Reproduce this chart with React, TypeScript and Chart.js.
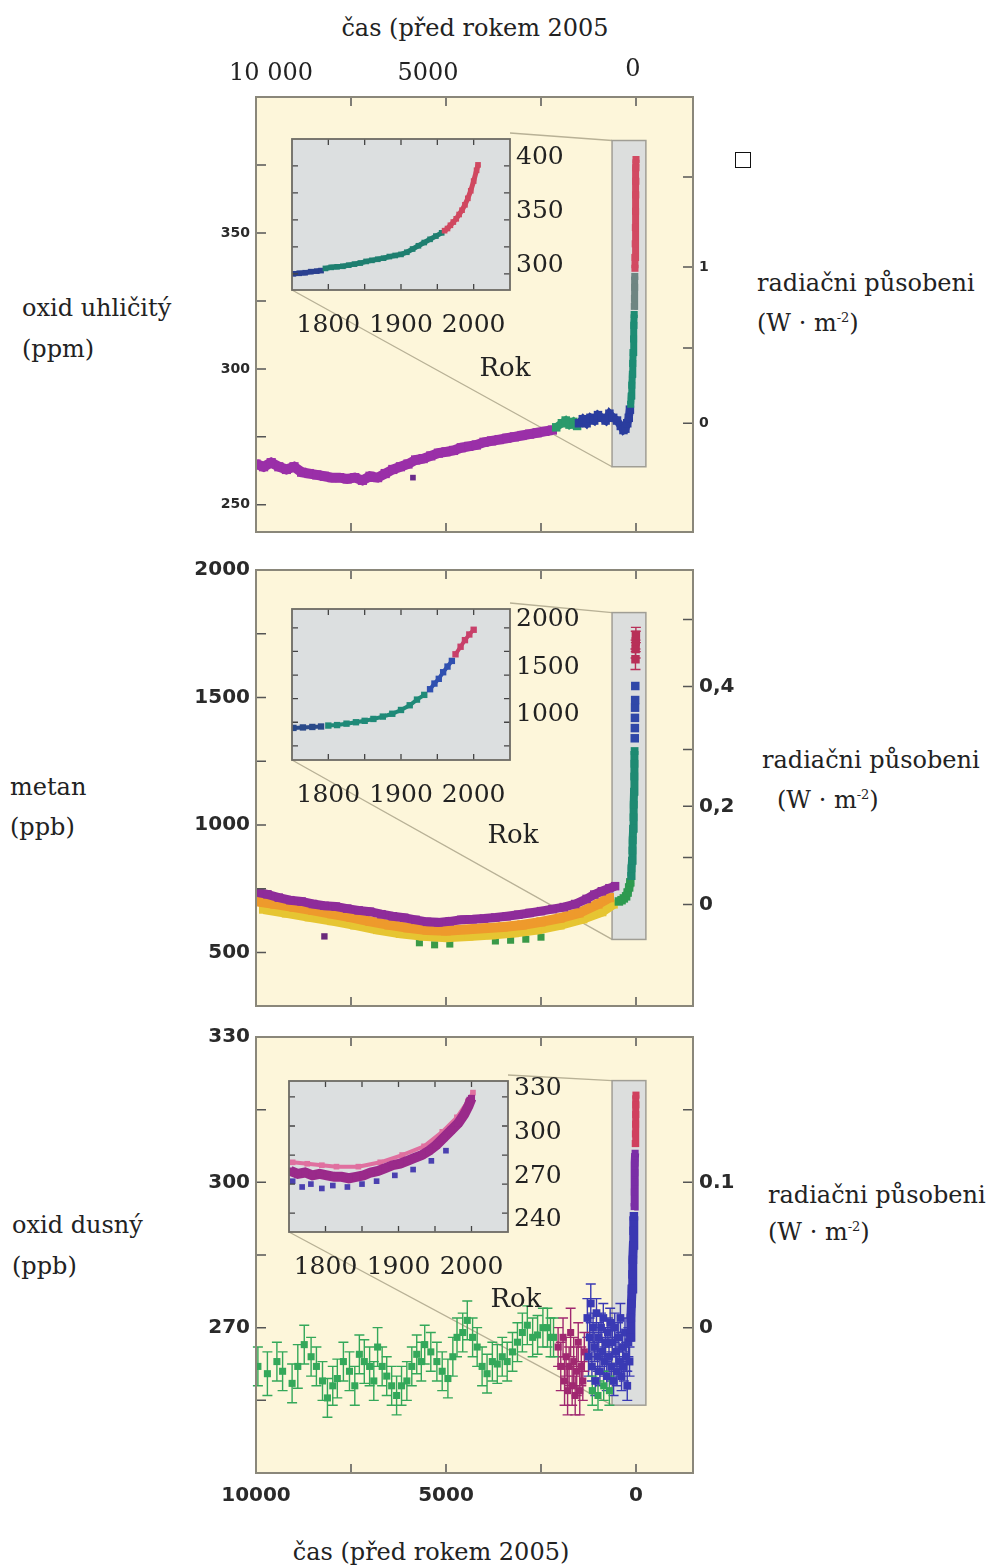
import React, { useEffect, useRef } from 'react';
import { Chart, registerables } from 'chart.js';
Chart.register(...registerables);

type Pt = [number, number];
type PtE = [number, number, number];

// ---------- axis values ----------
const X_MIN = -1500;
const X_MAX = 10000;
const mainXTicks = [7500, 5000, 2500, 0];
const bottomXTicks = [10000, 5000, 0];
const bottomXLabels = ['10000', '5000', '0'];

const co2LeftTicks = [250, 275, 300, 325, 350, 375];
const co2LeftLabels = ['250', '', '300', '', '350', ''];
const co2RightTicks = [280, 307.7, 337.5, 370.6];
const co2RightLabels = ['0', '', '1', ''];

const ch4LeftTicks = [500, 750, 1000, 1250, 1500, 1750, 2000];
const ch4LeftLabels = ['500', '', '1000', '', '1500', '', '2000'];
const ch4RightTicks = [688, 872, 1073, 1296, 1543, 1806];
const ch4RightLabels = ['0', '', '0,2', '', '0,4', ''];

const n2oLeftTicks = [255, 270, 285, 300, 315, 330];
const n2oLeftLabels = ['', '270', '', '300', '', '330'];
const n2oRightTicks = [270, 285, 300, 315];
const n2oRightLabels = ['0', '', '0.1', ''];

const insetXTicks = [1800, 1850, 1900, 1950, 2000];
const insetXLabelTicks = [1800, 1900, 2000];
const insetXLabels = ['1800', '1900', '2000'];
const co2InsetYTicks = [300, 325, 350, 375, 400];
const co2InsetLabelTicks = [300, 350, 400];
const ch4InsetYTicks = [750, 1000, 1250, 1500, 1750, 2000];
const ch4InsetLabelTicks = [1000, 1500, 2000];
const n2oInsetYTicks = [250, 270, 290, 310, 330];
const n2oInsetLabelTicks = [240, 270, 300, 330];

// zoom boxes [x from, x to, y from, y to]
const co2ZoomBox = [630, -260, 264, 384];
const ch4ZoomBox = [630, -260, 551, 1833];
const n2oZoomBox = [630, -260, 254, 321];

// ---------- CO2 (years before 2005, ppm) ----------
const co2Purple: Pt[] = [[10000,265],[9800,264],[9600,265.5],[9400,264],[9200,263],[9000,264],[8800,262],[8600,261.5],[8400,261],[8200,260.5],[8000,260],[7800,260],[7600,259.5],[7400,260],[7200,259],[7000,260.5],[6800,260],[6600,261.5],[6400,263],[6200,264],[6000,265],[5800,266.5],[5600,267],[5400,268],[5200,269],[5000,269.5],[4800,270],[4600,271],[4400,271.5],[4200,272],[4000,273],[3800,273.5],[3600,274],[3400,274.5],[3200,275],[3000,275.5],[2800,276],[2600,276.5],[2400,277],[2200,277.5]];
const co2Outlier: Pt[] = [[5870,260]];
const co2Green: Pt[] = [[2100,278.5],[1950,280],[1850,281],[1750,279.5],[1650,280.5],[1550,279]];
const co2Blue: Pt[] = [[1500,280],[1400,281.5],[1300,280],[1200,282],[1100,281],[1000,283],[900,282],[800,281],[700,283.5],[600,282],[500,281],[400,279],[330,277.5],[280,278],[230,280],[190,282],[160,285]];
const co2Teal: Pt[] = [[140,287],[125,290],[110,294],[95,298],[85,302],[75,306],[65,311],[55,316],[48,320]];
const co2Grey: Pt[] = [[44,323],[40,326],[36,330],[32,334]];
const co2Red: Pt[] = [[28,337],[24,341],[20,346],[16,352],[12,358],[8,364],[5,369],[2,374],[0,377]];

const co2InsBlue: Pt[] = [[1752,300],[1760,300.5],[1768,301],[1776,302],[1784,302.5],[1790,303]];
const co2InsTeal: Pt[] = [[1796,305],[1804,306],[1812,306.5],[1820,307],[1828,308],[1836,309],[1844,310],[1852,311.5],[1860,312.5],[1868,313.5],[1876,314.5],[1884,316],[1892,317],[1900,318],[1908,320],[1916,323],[1924,326],[1932,329],[1940,332],[1948,335],[1956,338]];
const co2InsRed: Pt[] = [[1960,340],[1964,342],[1968,345],[1972,348],[1976,351],[1980,355],[1984,359],[1988,364],[1992,370],[1996,377],[2000,386],[2004,396],[2006,401]];

// ---------- CH4 (years before 2005, ppb) ----------
const ch4Purple: Pt[] = [[9950,735],[9700,728],[9400,715],[9100,705],[8800,700],[8500,690],[8200,683],[7900,680],[7600,672],[7300,665],[7000,660],[6700,650],[6400,642],[6100,636],[5800,628],[5500,620],[5200,618],[4900,622],[4600,628],[4300,630],[4000,633],[3700,637],[3400,642],[3100,648],[2800,655],[2500,662],[2200,670],[1900,678],[1600,690],[1300,710],[1100,727],[900,740],[700,752],[550,760]];
const ch4Orange: Pt[] = [[9950,700],[9500,690],[9000,678],[8500,665],[8000,652],[7500,638],[7000,622],[6500,608],[6000,597],[5500,588],[5000,585],[4500,590],[4000,595],[3500,600],[3000,608],[2500,620],[2000,635],[1500,655],[1000,690],[700,715]];
const ch4Yellow: Pt[] = [[9800,670],[9200,655],[8600,640],[8000,625],[7400,608],[6800,590],[6200,575],[5600,565],[5000,560],[4400,565],[3800,570],[3200,578],[2600,590],[2000,608],[1400,632],[900,660],[600,690]];
const ch4GreenOld: Pt[] = [[5700,538],[5300,530],[4900,533],[3700,545],[3300,548],[2900,552],[2500,560]];
const ch4Outlier: Pt[] = [[8200,563]];
const ch4Green: Pt[] = [[450,700],[380,705],[320,712],[260,720],[220,735],[180,755],[150,775]];
const ch4Teal: Pt[] = [[130,800],[118,830],[105,860],[95,900],[85,940],[75,985],[66,1030],[58,1080],[52,1130],[46,1190],[41,1240],[37,1290]];
const ch4Blue: Pt[] = [[33,1340],[30,1380],[28,1420],[25,1460],[22,1490],[19,1545]];
const ch4Red: PtE[] = [[14,1650,40],[10,1690,35],[6,1720,40],[3,1745,30]];

const ch4InsBlue: Pt[] = [[1752,940],[1765,945],[1778,950],[1790,955]];
const ch4InsTeal: Pt[] = [[1800,965],[1812,970],[1825,985],[1838,1000],[1850,1015],[1862,1035],[1875,1060],[1888,1090],[1900,1130],[1912,1180],[1922,1240],[1932,1290]];
const ch4InsBlue2: Pt[] = [[1940,1350],[1946,1410],[1952,1460],[1958,1530],[1964,1590],[1970,1650]];
const ch4InsRed: Pt[] = [[1975,1720],[1982,1800],[1988,1870],[1994,1930],[2000,1980]];

// ---------- N2O (years before 2005, ppb, error) ----------
const n2oGreen: PtE[] = [[9950,262,4],[9700,260.5,4.5],[9450,263,4],[9300,261,4],[9050,258.5,4],[8900,262,4.5],[8730,266.5,4],[8550,264,4],[8410,262,4],[8250,259,4],[8120,255.5,4],[7980,258,4],[7860,259.5,4],[7700,263,4],[7540,261,4],[7400,258,4],[7280,264.5,4],[7150,263,4.5],[7010,262,4],[6900,259,4],[6800,266,4],[6680,262,4],[6560,260,4],[6430,258,4],[6300,256,4],[6170,258,4],[6030,259,4],[5900,262,4],[5770,264.5,4],[5650,263,4],[5560,266.5,4],[5400,265,4],[5240,263,4],[5100,261,4],[4950,259.5,4],[4820,264,4],[4710,268,4],[4560,269,4],[4440,271.5,4],[4300,268,4],[4180,266,4],[4050,262,4],[3920,260.5,4],[3780,263,4],[3650,262.5,4],[3520,264,4],[3390,263,4],[3250,265,4],[3120,267,4],[2990,269,4],[2860,270.5,4],[2720,268,4],[2590,268.5,4],[2450,270,4],[2330,270,4],[2250,268,4],[2170,268,4],[1150,257,3],[1000,256,3],[850,258,3],[700,257,3]];
const n2oMagenta: PtE[] = [[2050,266,4],[1980,262,5],[1920,268,4],[1880,259,5],[1840,264,4],[1800,257,5],[1760,262,4],[1720,269,5],[1680,258,4],[1640,263,5],[1600,256,4],[1560,261,5],[1520,267,4],[1480,257,5],[1440,262,4],[1400,259,4],[1360,265,4]];
const n2oBlue: PtE[] = [[1280,272,4],[1250,264,4],[1220,268,4],[1190,275,4],[1160,262,3],[1130,270,3],[1100,266,3],[1070,259,3],[1040,273,3],[1010,264,3],[980,268,3],[950,261,3],[920,270,3],[890,265,3],[860,272,3],[830,263,3],[800,267,3],[770,260,3],[740,269,3],[710,264,3],[680,271,3],[650,262,3],[620,267,3],[590,259,3],[560,270,3],[530,265,3],[500,261,3],[470,268,3],[440,263,3],[410,272,3],[380,260,3],[350,266,3],[320,262,3],[290,269,3],[260,264,3],[230,258,3],[200,267,3],[170,263,3]];
const n2oRiseBlue: Pt[] = [[150,268],[135,272],[120,275],[105,278],[92,281],[80,284],[70,287],[62,290],[55,293]];
const n2oRisePurple: Pt[] = [[48,295],[42,298],[37,300],[32,302],[27,304],[23,306]];
const n2oRiseRed: Pt[] = [[19,308],[15,310],[11,312],[7,314],[4,316],[1,318]];

const n2oInsMagenta: Pt[] = [[1752,279],[1762,277],[1772,278],[1782,276],[1792,277],[1802,276],[1812,275],[1822,275],[1832,274],[1842,275],[1852,276],[1862,278],[1872,279],[1882,281],[1892,283],[1902,284],[1912,286],[1922,288],[1932,290],[1942,293],[1952,297],[1962,302],[1972,307],[1982,312],[1990,318],[1996,324],[2000,329]];
const n2oInsPink: Pt[] = [[1755,285],[1775,284],[1795,283],[1815,282],[1845,282],[1875,285],[1905,290],[1935,296],[1960,306],[1980,316],[1995,327],[2002,333]];
const n2oInsBlue: Pt[] = [[1755,272],[1768,268],[1780,270],[1795,267],[1810,269],[1830,268],[1850,270],[1870,272],[1895,276],[1920,280],[1945,286],[1965,293]];

// ---------- styling / layout ----------
const SERIF = '"DejaVu Serif", serif';
const SANS = '"DejaVu Sans", "Liberation Sans", sans-serif';
const PANEL_BG = '#fdf6da';
const FRAME = '#8a877a';
const TICK = '#555';
const BOX_BG = '#dcdedd';
const BOX_LINE = '#a09e95';
const CONNECT = '#b8b196';
const INSET_BG = '#dcdfe0';
const INSET_FRAME = '#6d6b64';

const LEFT_W = 76;
const RIGHT_W = 57;
const PAD_T = 18;

const FR1 = { l: 256, r: 693, t: 97, b: 532 };
const FR2 = { l: 256, r: 693, t: 570, b: 1006 };
const FR3 = { l: 256, r: 693, t: 1037, b: 1473 };
const IN1 = { l: 292, r: 510, t: 133, b: 290 };
const IN2 = { l: 292, r: 510, t: 603, b: 760 };
const IN3 = { l: 289, r: 508, t: 1075, b: 1232 };
const INSET_PAD_L = 10, INSET_PAD_T = 15, INSET_RIGHT_W = 84, INSET_BOTTOM_H = 56;

const toXY = (a: Pt[] | PtE[]) => a.map((p) => ({ x: p[0], y: p[1] }));

function ds(data: Pt[] | PtE[], color: string, r = 4.5, line = 0, errColor?: string) {
  const d: any = {
    data: toXY(data), backgroundColor: color, borderColor: color,
    pointStyle: 'rect', pointRadius: r, pointBorderWidth: 0,
    showLine: line > 0, borderWidth: line, tension: 0,
  };
  if (data.length && (data[0] as any).length === 3) {
    d.errors = (data as PtE[]).map((p) => p[2]);
    d.errorColor = errColor || color;
  }
  return d;
}

function mainGeom(fr: any, bottomH: number) {
  return { left: fr.l - LEFT_W, top: fr.t - PAD_T, width: LEFT_W + (fr.r - fr.l) + RIGHT_W, height: PAD_T + (fr.b - fr.t) + bottomH };
}
function insetGeom(fr: any) {
  return { left: fr.l - INSET_PAD_L, top: fr.t - INSET_PAD_T, width: INSET_PAD_L + (fr.r - fr.l) + INSET_RIGHT_W, height: INSET_PAD_T + (fr.b - fr.t) + INSET_BOTTOM_H };
}

const smallTickFont = { family: SANS, size: 14, weight: 'bold' as const };
const tickFont = { family: SANS, size: 20, weight: 'bold' as const };

function yAxis(pos: 'left' | 'right', min: number, max: number, ticks: number[], labels: string[], w: number, font: any, pad: number, labelOffset = 0, color = '#2a2a2a') {
  return {
    type: 'linear', position: pos, min, max,
    afterFit: (s: any) => { s.width = w; },
    afterBuildTicks: (s: any) => { s.ticks = ticks.map((v) => ({ value: v })); },
    ticks: { callback: (_v: any, i: number) => labels[i], font, color, padding: pad, autoSkip: false, labelOffset },
    grid: { display: false, drawTicks: false, drawOnChartArea: false },
    border: { display: false },
  };
}

function makeMain(canvas: HTMLCanvasElement, p: any) {
  const g = mainGeom(p.frame, p.bottomH);
  const plugin = {
    id: 'mainDecor',
    beforeDraw(chart: any) {
      const { ctx, chartArea: a } = chart;
      ctx.save();
      ctx.fillStyle = PANEL_BG;
      ctx.fillRect(a.left, a.top, a.right - a.left, a.bottom - a.top);
      ctx.restore();
    },
    beforeDatasetsDraw(chart: any) {
      const { ctx, scales } = chart;
      const x = scales.x, y = scales.y;
      const [bx0, bx1, by0, by1] = p.box;
      const L = x.getPixelForValue(bx0), R = x.getPixelForValue(bx1);
      const T = y.getPixelForValue(by1), B = y.getPixelForValue(by0);
      const ins = p.inset;
      ctx.save();
      ctx.strokeStyle = CONNECT; ctx.lineWidth = 1.4;
      ctx.beginPath();
      ctx.moveTo(ins.r - g.left, ins.t - g.top); ctx.lineTo(L, T);
      ctx.moveTo(ins.l - g.left, ins.b - g.top); ctx.lineTo(L, B);
      ctx.stroke();
      ctx.fillStyle = BOX_BG; ctx.fillRect(L, T, R - L, B - T);
      ctx.strokeStyle = BOX_LINE; ctx.lineWidth = 1.5; ctx.strokeRect(L, T, R - L, B - T);
      chart.data.datasets.forEach((d: any) => {
        if (!d.errors) return;
        ctx.strokeStyle = d.errorColor; ctx.lineWidth = 1.4;
        d.data.forEach((pt: any, i: number) => {
          const e = d.errors[i];
          const px = x.getPixelForValue(pt.x);
          const p1 = y.getPixelForValue(pt.y - e), p2 = y.getPixelForValue(pt.y + e);
          ctx.beginPath();
          ctx.moveTo(px, p1); ctx.lineTo(px, p2);
          ctx.moveTo(px - 5, p1); ctx.lineTo(px + 5, p1);
          ctx.moveTo(px - 5, p2); ctx.lineTo(px + 5, p2);
          ctx.stroke();
        });
      });
      ctx.restore();
    },
    afterDraw(chart: any) {
      const { ctx, chartArea: a, scales } = chart;
      ctx.save();
      ctx.strokeStyle = TICK; ctx.lineWidth = 1.5;
      ctx.beginPath();
      mainXTicks.forEach((v) => {
        const px = scales.x.getPixelForValue(v);
        ctx.moveTo(px, a.top); ctx.lineTo(px, a.top + 9);
        ctx.moveTo(px, a.bottom); ctx.lineTo(px, a.bottom - 9);
      });
      p.yTicks.forEach((v: number) => {
        const py = scales.y.getPixelForValue(v);
        ctx.moveTo(a.left, py); ctx.lineTo(a.left + 10, py);
      });
      p.y2Ticks.forEach((v: number) => {
        const py = scales.y2.getPixelForValue(v);
        ctx.moveTo(a.right, py); ctx.lineTo(a.right - 10, py);
      });
      ctx.stroke();
      ctx.strokeStyle = FRAME; ctx.lineWidth = 2;
      ctx.strokeRect(a.left, a.top, a.right - a.left, a.bottom - a.top);
      ctx.restore();
    },
  };
  const font = p.font;
  return new Chart(canvas, {
    type: 'scatter',
    data: { datasets: p.datasets },
    options: {
      animation: false, responsive: false, maintainAspectRatio: false, events: [],
      layout: { padding: { top: PAD_T, bottom: p.showX ? 0 : p.bottomH, left: 0, right: 0 } },
      plugins: { legend: { display: false }, tooltip: { enabled: false } },
      scales: {
        x: {
          type: 'linear', min: X_MIN, max: X_MAX, reverse: true, display: p.showX,
          afterFit: (s: any) => { if (p.showX) s.height = p.bottomH; },
          afterBuildTicks: (s: any) => { s.ticks = bottomXTicks.map((v) => ({ value: v })); },
          ticks: { callback: (_v: any, i: number) => bottomXLabels[i], font: tickFont, color: '#2a2a2a', padding: 3, autoSkip: false, maxRotation: 0 },
          grid: { display: false, drawTicks: true, tickLength: 8 }, border: { display: false },
        },
        y: yAxis('left', p.yMin, p.yMax, p.yTicks, p.yLabels, LEFT_W, font, 6),
        y2: yAxis('right', p.yMin, p.yMax, p.y2Ticks, p.y2Labels, RIGHT_W, font, 6),
      },
    } as any,
    plugins: [plugin],
  });
}

const insetFont = { family: SERIF, size: 25 };

function makeInset(canvas: HTMLCanvasElement, q: any) {
  const plugin = {
    id: 'insetDecor',
    beforeDraw(chart: any) {
      const { ctx, chartArea: a } = chart;
      ctx.save(); ctx.fillStyle = INSET_BG;
      ctx.fillRect(a.left, a.top, a.right - a.left, a.bottom - a.top);
      ctx.restore();
    },
    afterDraw(chart: any) {
      const { ctx, chartArea: a, scales } = chart;
      ctx.save();
      ctx.strokeStyle = '#444'; ctx.lineWidth = 1.3;
      ctx.beginPath();
      insetXTicks.forEach((v) => {
        const px = scales.x.getPixelForValue(v);
        ctx.moveTo(px, a.top); ctx.lineTo(px, a.top + 6);
        ctx.moveTo(px, a.bottom); ctx.lineTo(px, a.bottom - 6);
      });
      q.yTicks.forEach((v: number) => {
        const py = scales.y.getPixelForValue(v);
        ctx.moveTo(a.left, py); ctx.lineTo(a.left + 6, py);
        ctx.moveTo(a.right, py); ctx.lineTo(a.right - 6, py);
      });
      ctx.stroke();
      ctx.strokeStyle = INSET_FRAME; ctx.lineWidth = 1.8;
      ctx.strokeRect(a.left, a.top, a.right - a.left, a.bottom - a.top);
      ctx.restore();
    },
  };
  return new Chart(canvas, {
    type: 'scatter',
    data: { datasets: q.datasets },
    options: {
      animation: false, responsive: false, maintainAspectRatio: false, events: [],
      layout: { padding: { top: INSET_PAD_T, left: INSET_PAD_L, right: 0, bottom: 0 } },
      plugins: { legend: { display: false }, tooltip: { enabled: false } },
      scales: {
        x: {
          type: 'linear', min: 1750, max: 2050, position: 'bottom',
          afterFit: (s: any) => { s.height = INSET_BOTTOM_H; },
          afterBuildTicks: (s: any) => { s.ticks = insetXLabelTicks.map((v) => ({ value: v })); },
          ticks: { callback: (_v: any, i: number) => insetXLabels[i], font: insetFont, color: '#222', padding: 0, autoSkip: false, maxRotation: 0 },
          grid: { display: false, drawTicks: true, tickLength: 20 }, border: { display: false },
        },
        y: yAxis('right', q.yMin, q.yMax, q.labelTicks, q.labelTicks.map((v: number) => String(v)), INSET_RIGHT_W, insetFont, 6, -8, '#222'),
      },
    } as any,
    plugins: [plugin],
  });
}

function Txt({ x, y, children, center, size = 24 }: any) {
  const style: any = {
    position: 'absolute', top: y - 16, lineHeight: '32px', fontSize: size, whiteSpace: 'nowrap',
    fontFamily: SERIF, color: '#222',
  };
  if (center) { style.left = x - 250; style.width = 500; style.textAlign = 'center'; } else { style.left = x; }
  return <div style={style}>{children}</div>;
}

function Wm2() {
  return <span>(W · m<sup style={{ fontSize: 13, verticalAlign: 'top', lineHeight: '22px' }}>-2</sup>)</span>;
}

const G1 = mainGeom(FR1, 18), G2 = mainGeom(FR2, 18), G3 = mainGeom(FR3, 45);
const I1 = insetGeom(IN1), I2 = insetGeom(IN2), I3 = insetGeom(IN3);

export default function App() {
  const m1 = useRef<HTMLCanvasElement>(null);
  const m2 = useRef<HTMLCanvasElement>(null);
  const m3 = useRef<HTMLCanvasElement>(null);
  const i1 = useRef<HTMLCanvasElement>(null);
  const i2 = useRef<HTMLCanvasElement>(null);
  const i3 = useRef<HTMLCanvasElement>(null);

  useEffect(() => {
    const charts: Chart[] = [];
    charts.push(makeMain(m1.current!, {
      frame: FR1, bottomH: 18, showX: false, yMin: 240, yMax: 400, font: smallTickFont,
      yTicks: co2LeftTicks, yLabels: co2LeftLabels, y2Ticks: co2RightTicks, y2Labels: co2RightLabels,
      box: co2ZoomBox, inset: IN1,
      datasets: [
        ds(co2Red, '#d24a62', 5, 7), ds(co2Grey, '#6e8582', 5, 7), ds(co2Teal, '#1d8c74', 5, 7),
        ds(co2Blue, '#2a3d9e', 6, 8), ds(co2Green, '#2b9a6c', 6, 8), ds(co2Purple, '#9a2fa8', 6.5, 10),
        ds(co2Outlier, '#6a2a8a', 4),
      ],
    }));
    charts.push(makeMain(m2.current!, {
      frame: FR2, bottomH: 18, showX: false, yMin: 290, yMax: 2000, font: tickFont,
      yTicks: ch4LeftTicks, yLabels: ch4LeftLabels, y2Ticks: ch4RightTicks, y2Labels: ch4RightLabels,
      box: ch4ZoomBox, inset: IN2,
      datasets: [
        ds(ch4Red, '#b83058', 6), ds(ch4Blue, '#3048a8', 6), ds(ch4Teal, '#1f8a72', 5.5, 8), ds(ch4Green, '#2e9a50', 6, 8),
        ds(ch4Purple, '#8e2c9a', 6, 9), ds(ch4Orange, '#ee9a2c', 6.5, 10), ds(ch4Yellow, '#e6c532', 6.5, 10),
        ds(ch4GreenOld, '#3a9a48', 5), ds(ch4Outlier, '#6a2a7a', 4.5),
      ],
    }));
    charts.push(makeMain(m3.current!, {
      frame: FR3, bottomH: 45, showX: true, yMin: 240, yMax: 330, font: tickFont,
      yTicks: n2oLeftTicks, yLabels: n2oLeftLabels, y2Ticks: n2oRightTicks, y2Labels: n2oRightLabels,
      box: n2oZoomBox, inset: IN3,
      datasets: [
        ds(n2oRiseRed, '#d0405e', 5, 7), ds(n2oRisePurple, '#7a2ea6', 5, 8), ds(n2oRiseBlue, '#3a38b2', 6, 9),
        ds(n2oBlue, '#3a3ab4', 5.5), ds(n2oMagenta, '#a02870', 5), ds(n2oGreen, '#34a85a', 5),
      ],
    }));
    charts.push(makeInset(i1.current!, {
      yMin: 285, yMax: 425, yTicks: co2InsetYTicks, labelTicks: co2InsetLabelTicks,
      datasets: [ds(co2InsRed, '#d04860', 4, 5), ds(co2InsTeal, '#1e7f70', 4, 5), ds(co2InsBlue, '#2a4090', 4, 5)],
    }));
    charts.push(makeInset(i2.current!, {
      yMin: 600, yMax: 2200, yTicks: ch4InsetYTicks, labelTicks: ch4InsetLabelTicks,
      datasets: [ds(ch4InsRed, '#c8406a', 4.5, 4), ds(ch4InsBlue2, '#3050b0', 4.5, 4), ds(ch4InsTeal, '#1f8a78', 4.5, 4), ds(ch4InsBlue, '#2a4a8a', 4.5, 4)],
    }));
    charts.push(makeInset(i3.current!, {
      yMin: 237, yMax: 341, yTicks: n2oInsetYTicks, labelTicks: n2oInsetLabelTicks,
      datasets: [ds(n2oInsMagenta, '#9a2a8a', 5, 10), ds(n2oInsPink, '#e070a0', 4, 4), ds(n2oInsBlue, '#4a40b0', 4)],
    }));
    return () => charts.forEach((c) => c.destroy());
  }, []);

  const cv = (g: any) => ({ position: 'absolute' as const, left: g.left, top: g.top, width: g.width, height: g.height });

  return (
    <div style={{ position: 'absolute', left: 0, top: 0, width: 993, height: 1568, background: '#fff', overflow: 'hidden' }}>
      <canvas ref={m1} width={G1.width} height={G1.height} style={cv(G1)} />
      <canvas ref={m2} width={G2.width} height={G2.height} style={cv(G2)} />
      <canvas ref={m3} width={G3.width} height={G3.height} style={cv(G3)} />
      <canvas ref={i1} width={I1.width} height={I1.height} style={cv(I1)} />
      <canvas ref={i2} width={I2.width} height={I2.height} style={cv(I2)} />
      <canvas ref={i3} width={I3.width} height={I3.height} style={cv(I3)} />

      <Txt x={475} y={28} center>čas (před rokem 2005</Txt>
      <Txt x={271} y={72} center>10 000</Txt>
      <Txt x={428} y={72} center>5000</Txt>
      <Txt x={633} y={68} center>0</Txt>

      <Txt x={22} y={308}>oxid uhličitý</Txt>
      <Txt x={22} y={349}>(ppm)</Txt>
      <Txt x={757} y={283}>radiačni působeni</Txt>
      <Txt x={757} y={323}><Wm2 /></Txt>

      <Txt x={10} y={787}>metan</Txt>
      <Txt x={10} y={827}>(ppb)</Txt>
      <Txt x={762} y={760}>radiačni působeni</Txt>
      <Txt x={777} y={800}><Wm2 /></Txt>

      <Txt x={12} y={1225}>oxid dusný</Txt>
      <Txt x={12} y={1266}>(ppb)</Txt>
      <Txt x={768} y={1195}>radiačni působeni</Txt>
      <Txt x={768} y={1232}><Wm2 /></Txt>

      <Txt x={505} y={367} center size={26}>Rok</Txt>
      <Txt x={513} y={834} center size={26}>Rok</Txt>
      <Txt x={516} y={1298} center size={26}>Rok</Txt>

      <Txt x={431} y={1552} center>čas (před rokem 2005)</Txt>

      <div style={{ position: 'absolute', left: 735, top: 152, width: 14, height: 14, border: '1.5px solid #111' }} />
    </div>
  );
}
